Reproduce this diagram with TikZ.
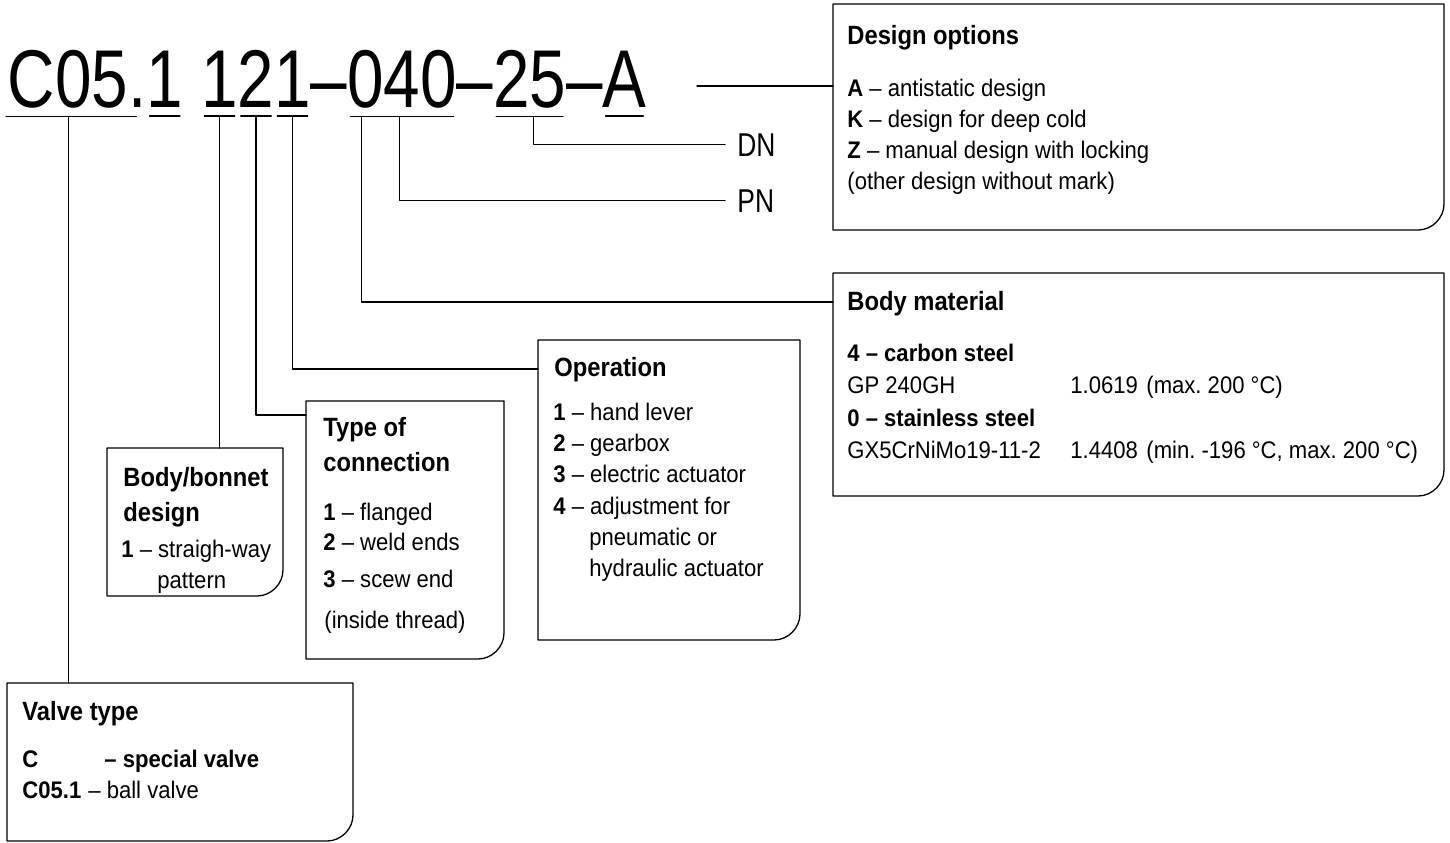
\documentclass[tikz,border=0pt]{standalone}
\usepackage{fontspec}
\setmainfont{Liberation Sans}[FakeStretch=0.92]
\newfontfamily\codefont{Liberation Sans}[FakeStretch=0.80]
\newfontfamily\headfont{Liberation Sans}[FakeStretch=0.90]
\usetikzlibrary{positioning,calc}
\frenchspacing

\tikzset{
  lead/.style={line width=0.6pt},
  boxline/.style={line width=0.65pt},
  code/.style={font=\codefont\fontsize{41}{42}\selectfont, inner sep=0pt, outer sep=0pt},
  tag/.style={font=\codefont\fontsize{16.5}{18}\selectfont, inner sep=0pt, anchor=base west},
  head/.style={font=\headfont\fontsize{13.2}{15}\selectfont\bfseries, inner sep=0pt, anchor=base west},
  txt/.style={font=\fontsize{12}{14}\selectfont, inner sep=0pt, anchor=base west},
  btxt/.style={txt, font=\fontsize{12}{14}\selectfont\bfseries},
  boxarea/.style={inner sep=0pt, outer sep=0pt, anchor=north west}
}
% box with one rounded corner (bottom right)
\newcommand\cornerbox[1]{%
  \draw[boxline] (#1.north west) -- (#1.north east) -- ([yshift=13pt]#1.south east)
    .. controls ([yshift=6pt]#1.south east) and ([xshift=-6pt]#1.south east) .. ([xshift=-13pt]#1.south east)
    -- (#1.south west) -- cycle;}

\begin{document}
\begin{tikzpicture}[x=0.5pt,y=-0.5pt,line cap=round,line join=round]
\useasboundingbox (0,0) rectangle (1450,842);

% type code
\node[code,anchor=base west] (c05) at (8,107) {C05};
\node[code,base right=0pt of c05] (dot) {.};
\node[code,base right=0pt of dot] (one) {1};
\node[code,base right=9.1pt of one] (b1) {1};
\node[code,base right=0pt of b1] (b2) {2};
\node[code,base right=0pt of b2] (b3) {1};
\node[code,base right=0pt of b3] (dsh1) {–};
\node[code,base right=0pt of dsh1] (mat) {040};
\node[code,base right=0pt of mat] (dsh2) {–};
\node[code,base right=0pt of dsh2] (dn) {25};
\node[code,base right=0pt of dn] (dsh3) {–};
\node[code,base right=0pt of dsh3] (opt) {A};
\draw[lead] ([shift={(-1pt,-4.5pt)}]c05.south west) -- ([shift={(4pt,-4.5pt)}]c05.south east);
\foreach \n in {one,b1,b2,b3,mat,dn,opt}
  \draw[lead] ([shift={(1.5pt,-4.5pt)}]\n.south west) -- ([shift={(-1.5pt,-4.5pt)}]\n.south east);

\coordinate (c05tap) at ([yshift=-4.5pt]c05.south);
\coordinate (b1tap) at ([yshift=-4.5pt]b1.south);
\coordinate (b2tap) at ([yshift=-4.5pt]b2.south);
\coordinate (b3tap) at ([yshift=-4.5pt]b3.south);
\coordinate (mattap) at ([shift={(7pt,-4.5pt)}]mat.south west);
\coordinate (pntap) at ([shift={(26pt,-4.5pt)}]mat.south west);
\coordinate (dntap) at ([shift={(2pt,-4.5pt)}]dn.south);
\coordinate (optlead) at (697,86);

% boxes
\node[boxarea,minimum width=305.5pt,minimum height=113pt] (dsgn) at (833,4) {};
\node[boxarea,minimum width=305.5pt,minimum height=111.5pt] (matl) at (833,273) {};
\node[boxarea,minimum width=131pt,minimum height=150pt] (oper) at (538,340) {};
\node[boxarea,minimum width=99pt,minimum height=129pt] (conn) at (306,401) {};
\node[boxarea,minimum width=88pt,minimum height=74pt] (bonn) at (107,448) {};
\node[boxarea,minimum width=173pt,minimum height=79pt] (vtyp) at (7,683) {};
\cornerbox{dsgn}
\cornerbox{matl}
\cornerbox{oper}
\cornerbox{conn}
\cornerbox{bonn}
\cornerbox{vtyp}

% labels DN, PN
\node[tag] (dnlbl) at (737,156) {DN};
\node[tag] (pnlbl) at (737,212) {PN};

% leads
\draw[lead] (c05tap) -- (c05tap |- vtyp.north);
\draw[lead] (b1tap) -- (b1tap |- bonn.north);
\draw[lead] (b2tap) |- ([yshift=-7pt]conn.north west);
\draw[lead] (b3tap) |- ([yshift=-14.5pt]oper.north west);
\draw[lead] (mattap) |- ([yshift=-14.5pt]matl.north west);
\draw[lead] (pntap) |- ([xshift=-6pt]pnlbl.west);
\draw[lead] (dntap) |- ([xshift=-6pt]dnlbl.west);
\draw[lead] (optlead) -- (optlead -| dsgn.west);

% design options
\node[head] (dsgn-t) at (847,44) {Design options};
\node[txt] (dsgn-a) at (847,96) {\textbf{A} – antistatic design};
\node[txt] (dsgn-k) at (847,127) {\textbf{K} – design for deep cold};
\node[txt] (dsgn-z) at (847,158) {\textbf{Z} – manual design with locking};
\node[txt] (dsgn-o) at (847,189) {(other design without mark)};

% body material
\node[head] (matl-t) at (847,310) {Body material};
\node[btxt] (matl-4) at (847,361) {4 – carbon steel};
\node[txt] (matl-gp) at (847,393) {GP 240GH};
\node[txt] (matl-gpn) at (1070,393) {1.0619};
\node[txt] (matl-gpr) at (1146,393) {(max. 200 °C)};
\node[btxt] (matl-0) at (847,426) {0 – stainless steel};
\node[txt] (matl-gx) at (847,458) {GX5CrNiMo19-11-2};
\node[txt] (matl-gxn) at (1070,458) {1.4408};
\node[txt] (matl-gxr) at (1146,458) {(min. -196 °C, max. 200 °C)};

% operation
\node[head] (oper-t) at (554,376) {Operation};
\node[txt] (oper-1) at (553,420) {\textbf{1} – hand lever};
\node[txt] (oper-2) at (553,451) {\textbf{2} – gearbox};
\node[txt] (oper-3) at (553,482) {\textbf{3} – electric actuator};
\node[txt] (oper-4) at (553,514) {\textbf{4} – adjustment for};
\node[txt] (oper-4b) at (589,545) {pneumatic or};
\node[txt] (oper-4c) at (589,576) {hydraulic actuator};

% type of connection
\node[head] (conn-t1) at (323,436) {Type of};
\node[head] (conn-t2) at (323,471) {connection};
\node[txt] (conn-1) at (323,520) {\textbf{1} – flanged};
\node[txt] (conn-2) at (323,550) {\textbf{2} – weld ends};
\node[txt] (conn-3) at (323,587) {\textbf{3} – scew end};
\node[txt] (conn-i) at (324,628) {(inside thread)};

% body/bonnet design
\node[head] (bonn-t1) at (123,486) {Body/bonnet};
\node[head] (bonn-t2) at (123,521) {design};
\node[txt] (bonn-1) at (121,557) {\textbf{1} – straigh-way};
\node[txt] (bonn-1b) at (157,588) {pattern};

% valve type
\node[head] (vtyp-t) at (22,720) {Valve type};
\node[btxt] (vtyp-c) at (22,767) {C};
\node[btxt] (vtyp-cs) at (104,767) {– special valve};
\node[btxt] (vtyp-b) at (22,798) {C05.1};
\node[txt] (vtyp-bs) at (88,798) {– ball valve};
\end{tikzpicture}
\end{document}
